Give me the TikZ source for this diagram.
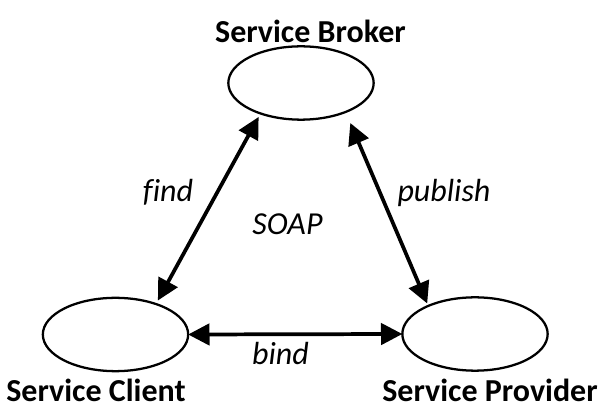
\documentclass[tikz,border=0pt]{standalone}
\usepackage{fontspec}
\setmainfont{Carlito}[Ligatures=NoCommon]
\usetikzlibrary{shapes.geometric,arrows.meta}
\tikzset{
  svc/.style={ellipse, draw=black, line width=1.7pt, inner sep=0pt, outer sep=0pt,
              minimum width=109pt, minimum height=55pt},
  title/.style={anchor=base, inner sep=0pt, font=\fontsize{24}{28}\selectfont\bfseries},
  lbl/.style={anchor=base, inner sep=0pt, font=\fontsize{24}{28}\selectfont\itshape},
  conn/.style={line width=2.8pt, {Triangle[length=16pt,width=16pt]}-{Triangle[length=16pt,width=16pt]}}
}
\begin{document}
\begin{tikzpicture}[x=0.75pt,y=-0.75pt]
\useasboundingbox (0,0) rectangle (604,409);
\node[svc] (broker) at (301,83) {};
\node[svc] (client) at (115.5,334.5) {};
\node[svc] (provider) at (475,334) {};
\node[title] (tb) at (310.5,43) {Service Broker};
\node[title] (tc) at (96,402) {Service Client};
\node[title] (tp) at (490,402) {Service Provider};
\draw[conn, shorten <=3pt, shorten >=3pt] (client.37) -- (broker.217);
\draw[conn, shorten <=2pt, shorten >=9pt] (provider.149) -- (broker.327);
\draw[conn] (client.east) -- (provider.west);
\node[lbl] (lfind) at (168,202) {find};
\node[lbl] (lpub) at (444,202) {publish};
\node[lbl] (lsoap) at (287.5,235) {SOAP};
\node[lbl] (lbind) at (280.5,365) {bind};
\end{tikzpicture}
\end{document}
